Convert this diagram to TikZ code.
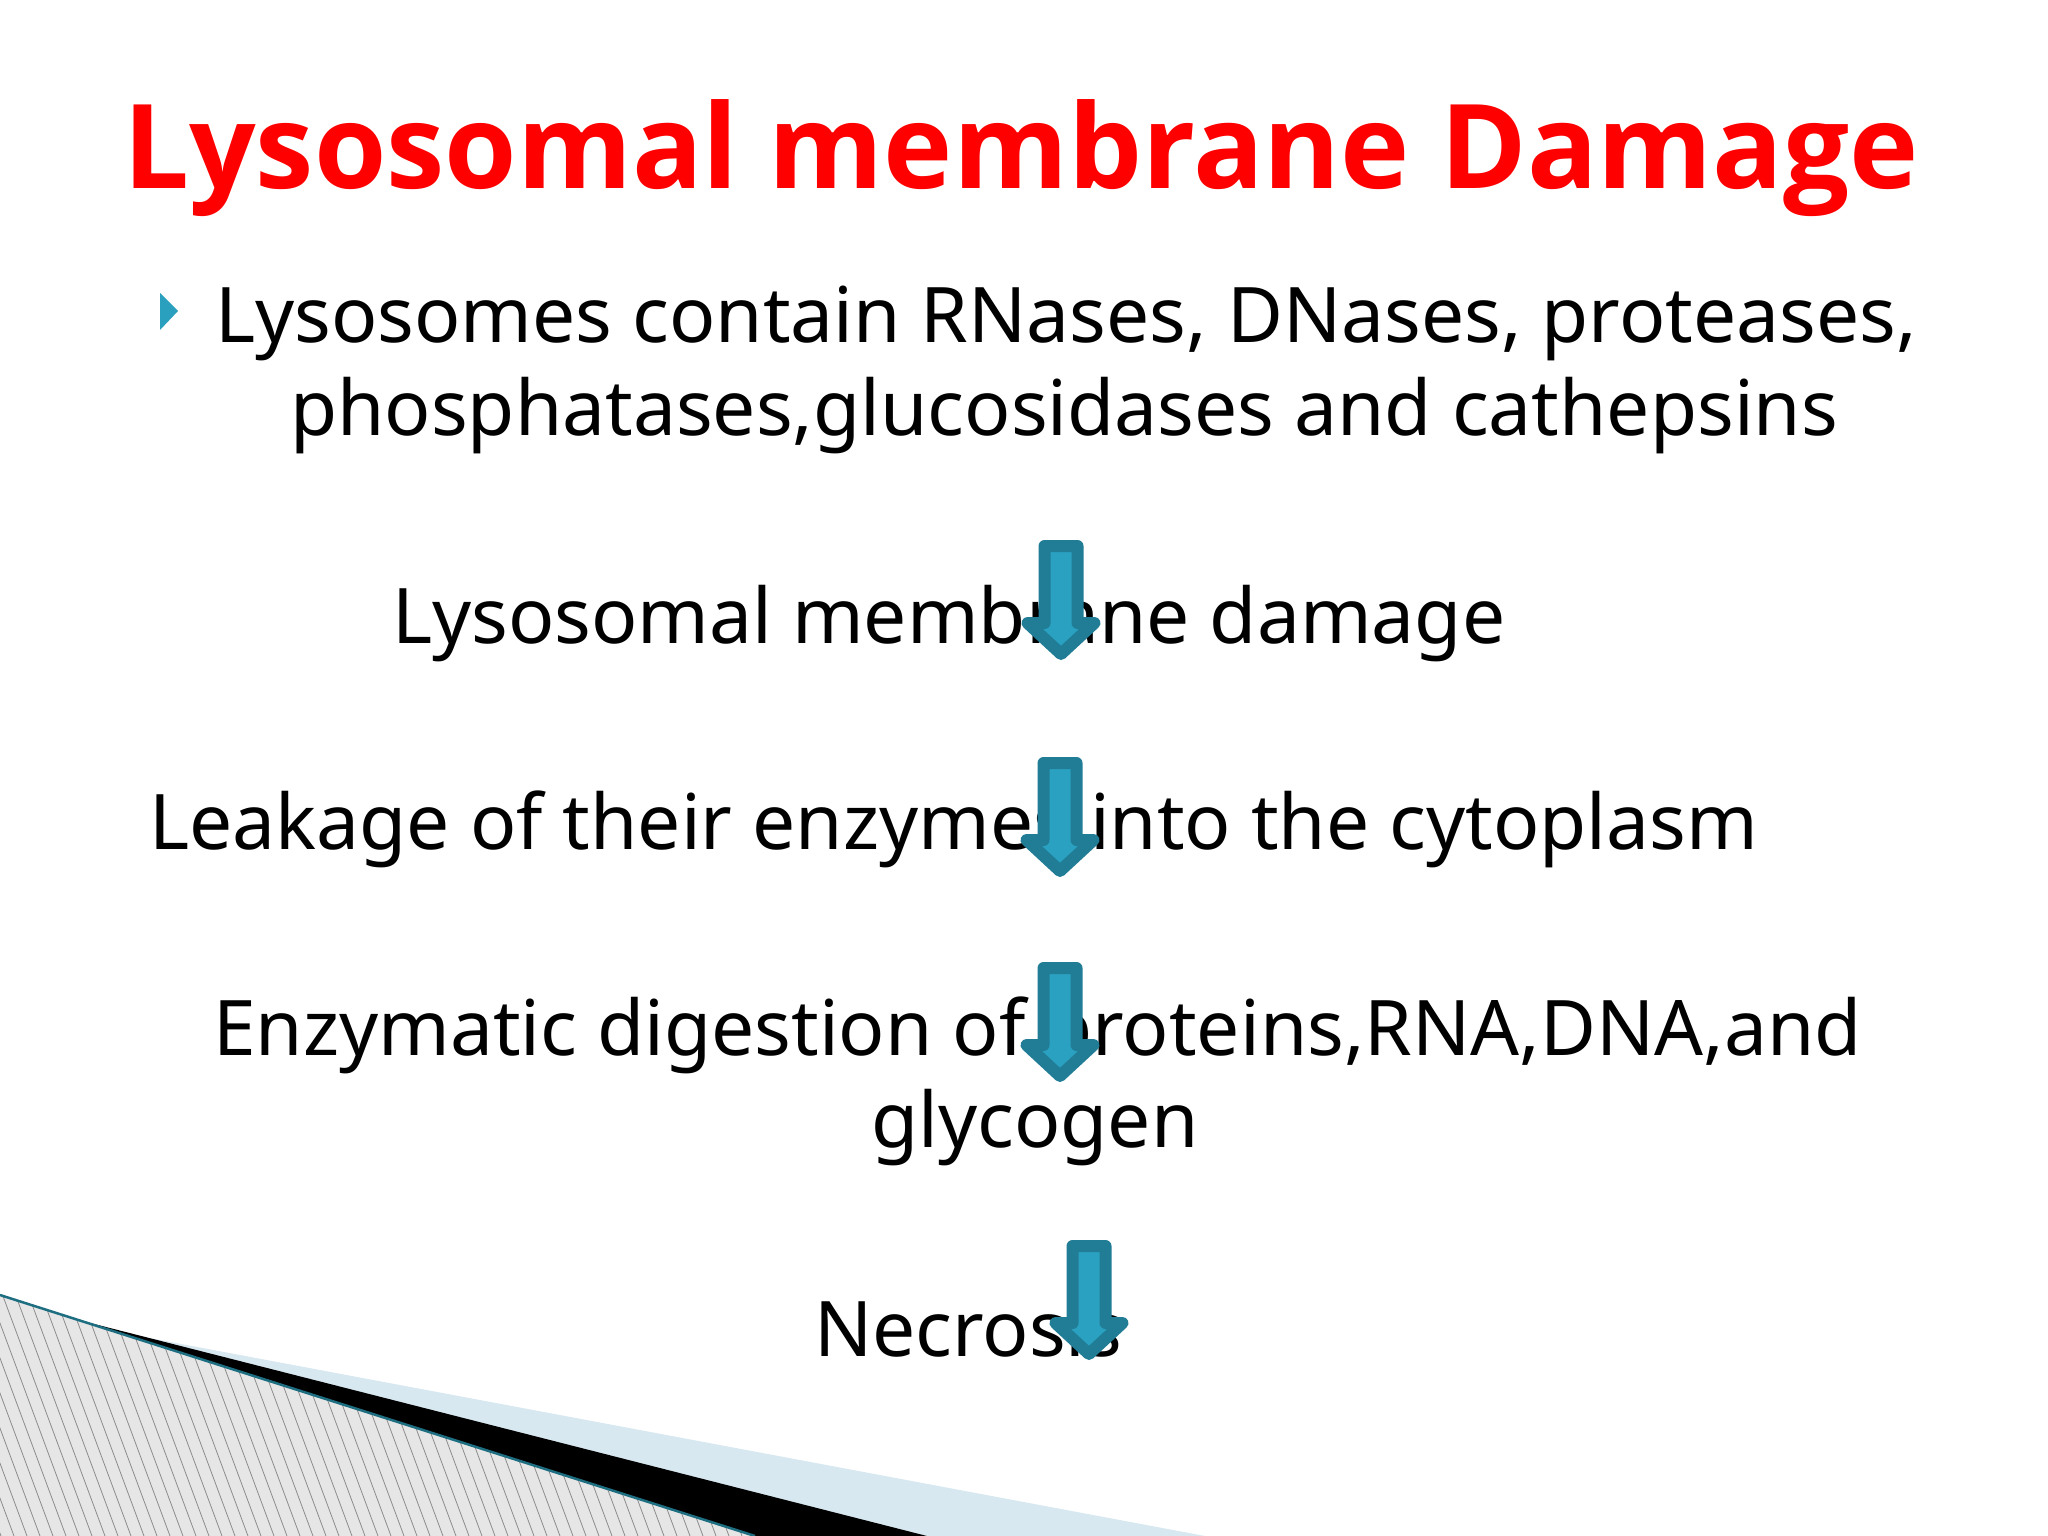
\documentclass[tikz,border=0pt]{standalone}
\usepackage{fontspec}
\setmainfont{Noto Sans}
\newfontfamily\titlefont{Open Sans}
\definecolor{titlered}{RGB}{255,0,0}
\definecolor{arrfill}{RGB}{42,161,192}
\definecolor{arrdraw}{RGB}{33,125,150}
\definecolor{bulletc}{RGB}{42,160,190}
\definecolor{tealline}{RGB}{30,110,130}
\definecolor{lightband}{RGB}{216,232,240}
\definecolor{hatchbg}{RGB}{230,230,230}
\definecolor{hatchln}{RGB}{140,140,140}
\tikzset{
  bodytext/.style={font=\fontsize{76.7}{90}\selectfont, text=black, inner sep=0pt},
  titletext/.style={font=\titlefont\bfseries\fontsize{117.1}{130}\selectfont, text=titlered, inner sep=0pt},
  blockarrow/.style={draw=arrdraw, fill=arrfill, line width=12pt, line join=round},
  downarr/.pic={
    \path[blockarrow] (-16.5,0) -- (16.5,0) -- (16.5,77) -- (33.5,77) -- (0,108) -- (-33.5,77) -- (-16.5,77) -- cycle;
  }
}
\begin{document}
\begin{tikzpicture}[x=1pt,y=-1pt]
\useasboundingbox (0,0) rectangle (2048,1536);
\fill[white] (0,0) rectangle (2048,1536);

% bottom-left decoration
\fill[lightband] (0,1310) -- (1205,1536) -- (0,1536) -- cycle;
\fill[black] (0,1300) -- (927,1536) -- (0,1536) -- cycle;
\begin{scope}
  \clip (0,1295) -- (755,1536) -- (0,1536) -- cycle;
  \fill[hatchbg] (0,1280) rectangle (760,1536);
  \foreach \xx in {-120,-107,...,780} {
    \draw[hatchln, line width=0.8pt] (\xx,1280) -- ({\xx+95},1536);
  }
\end{scope}
\draw[tealline, line width=2.5pt] (0,1295) -- (755,1536);

% title
\node[titletext, anchor=base] (title) at (1021,188) {Lysosomal membrane Damage};

% bullet
\fill[bulletc] (160,293) -- (178,311) -- (160,330) -- cycle;
\node[bodytext, anchor=base west] (b1) at (215,342) {Lysosomes contain RNases, DNases, proteases,};
\node[bodytext, anchor=base west] (b2) at (290,435) {phosphatases,glucosidases and cathepsins};

% steps
\node[bodytext, anchor=base west] (s1) at (392,643) {Lysosomal membrane damage};
\node[bodytext, anchor=base west] (s2) at (149,849) {Leakage of their enzymes into the cytoplasm};
\node[bodytext, anchor=base west] (s3) at (213,1055) {Enzymatic digestion of proteins,RNA,DNA,and};
\node[bodytext, anchor=base] (s3b) at (1035,1147) {glycogen};
\node[bodytext, anchor=base west] (s4) at (814,1356) {Necrosis};

% arrows
\pic at (1061,546) {downarr};
\pic at (1060,763) {downarr};
\pic at (1060,968) {downarr};
\pic at (1089,1246) {downarr};
\end{tikzpicture}
\end{document}
